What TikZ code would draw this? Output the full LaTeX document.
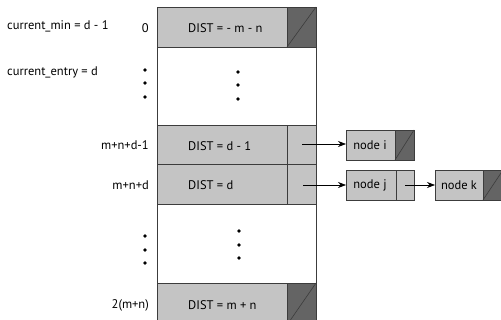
\documentclass[tikz,border=0pt]{standalone}
\usepackage{fontspec}
\setmainfont{PT Sans}
\usetikzlibrary{arrows.meta}
\definecolor{lightc}{RGB}{196,196,196}
\definecolor{darkc}{RGB}{100,100,100}
\definecolor{edgec}{RGB}{60,60,60}
\begin{document}
\begin{tikzpicture}[x=1pt,y=-1pt,
  cellbox/.style={draw=edgec,line width=0.8pt,fill=lightc},
  darkbox/.style={draw=edgec,line width=0.8pt,fill=darkc},
  whitebox/.style={draw=edgec,line width=0.8pt,fill=white},
  txt/.style={inner sep=0pt,font=\fontsize{12.5}{14}\selectfont},
  ptr/.style={line width=0.7pt,-{Stealth[length=8pt,width=6pt]}},
  dotmark/.style={circle,fill=black,inner sep=0pt,minimum size=3.6pt}]
\clip (0,0) rectangle (501,320);
% main array
\draw[cellbox] (157,7) rectangle (287,47);
\draw[darkbox] (287,7) rectangle (316,47);
\draw[edgec,line width=0.6pt] (287,47) -- (316,7);
\draw[whitebox] (157,47) rectangle (316,125);
\draw[cellbox] (157,125) rectangle (287,164);
\draw[cellbox] (287,125) rectangle (316,164);
\draw[cellbox] (157,164) rectangle (287,204);
\draw[cellbox] (287,164) rectangle (316,204);
\draw[whitebox] (157,204) rectangle (316,283);
\draw[cellbox] (157,283) rectangle (287,325);
\draw[darkbox] (287,283) rectangle (316,325);
\draw[edgec,line width=0.6pt] (287,325) -- (316,283);
% texts in array
\node[txt,anchor=west] (r0) at (188,28) {DIST = - m - n};
\node[txt,anchor=west] (r1) at (188,146) {DIST = d - 1};
\node[txt,anchor=west] (r2) at (188,185) {DIST = d};
\node[txt,anchor=west] (r3) at (188,305) {DIST = m + n};
% index labels
\node[txt,anchor=east] (i0) at (149,28) {0};
\node[txt,anchor=east] (i1) at (149,145) {m+n+d-1};
\node[txt,anchor=east] (i2) at (149,185) {m+n+d};
\node[txt,anchor=east] (i3) at (149,305) {2(m+n)};
\node[txt,anchor=west] (cm) at (7,26) {current\_min = d - 1};
\node[txt,anchor=west] (ce) at (7,72) {current\_entry = d};
% dots
\foreach \y [count=\k] in {70,83,97} {\node[dotmark] (ld\k) at (145,\y) {};}
\foreach \y [count=\k] in {72,85,99} {\node[dotmark] (cd\k) at (238,\y) {};}
\foreach \y [count=\k] in {236,250,263} {\node[dotmark] (le\k) at (145,\y) {};}
\foreach \y [count=\k] in {231,245,258} {\node[dotmark] (ce\k) at (239,\y) {};}
% list nodes
\draw[cellbox] (346,130) rectangle (395,160);
\draw[darkbox] (395,130) rectangle (414,160);
\draw[edgec,line width=0.6pt] (395,160) -- (414,130);
\node[txt] (ni) at (370,145) {node i};
\draw[cellbox] (346,170) rectangle (396,200);
\draw[cellbox] (396,170) rectangle (414,200);
\node[txt] (nj) at (370,185) {node j};
\draw[cellbox] (435,170) rectangle (483,200);
\draw[darkbox] (483,170) rectangle (503,200);
\draw[edgec,line width=0.6pt] (483,200) -- (503,170);
\node[txt] (nk) at (459,185) {node k};
% pointers
\coordinate (p1) at (302,144);
\coordinate (p2) at (303,185);
\coordinate (p3) at (405,185);
\coordinate (ti) at (346,144);
\coordinate (tj) at (346,185);
\coordinate (tk) at (435,185);
\draw[ptr] (p1) -- (ti);
\draw[ptr] (p2) -- (tj);
\draw[ptr] (p3) -- (tk);
\end{tikzpicture}
\end{document}
